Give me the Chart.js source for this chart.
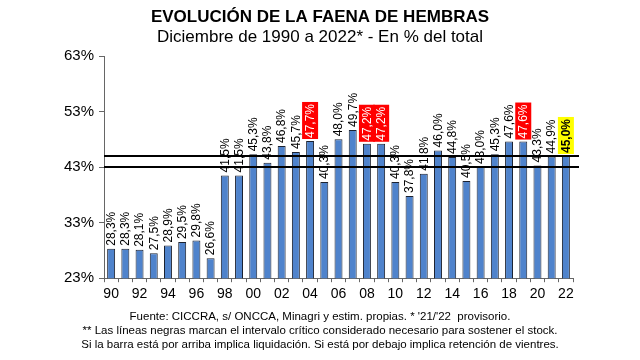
<!DOCTYPE html>
<html>
<head>
<meta charset="utf-8">
<script src="https://cdn.jsdelivr.net/npm/chart.js@4/dist/chart.umd.min.js"></script>
<style>
  html, body { margin: 0; padding: 0; background: #fff; }
  #wrap { width: 640px; height: 360px; }
</style>
</head>
<body>
<div id="wrap"><canvas id="chart" width="640" height="360"></canvas></div>
<script>
// años (dos dígitos) y % de hembras en la faena
const years = ['90','91','92','93','94','95','96','97','98','99','00','01','02','03','04','05',
               '06','07','08','09','10','11','12','13','14','15','16','17','18','19','20','21','22'];
const faena = [28.3, 28.3, 28.1, 27.5, 28.9, 29.5, 29.8, 26.6, 41.5, 41.5, 45.3, 43.8, 46.8, 45.7, 47.7, 40.3,
               48.0, 49.7, 47.2, 47.2, 40.3, 37.8, 41.8, 46.0, 44.8, 40.5, 43.0, 45.3, 47.6, 47.6, 43.3, 44.9, 45.0];
const redYears = ['04', '08', '09', '19'];
const yellowYears = ['22'];
// intervalo crítico (líneas negras)
const critical = [43, 45];
const yTicks = [23, 33, 43, 53, 63];

const FONT = "'Liberation Sans', Arial, sans-serif";

const titles = {
    title: 'EVOLUCIÓN DE LA FAENA DE HEMBRAS',
    subtitle: 'Diciembre de 1990 a 2022* - En % del total',
    footer: [
        "Fuente: CICCRA, s/ ONCCA, Minagri y estim. propias. * '21/'22  provisorio.",
        '** Las líneas negras marcan el intervalo crítico considerado necesario para sostener el stock.',
        'Si la barra está por arriba implica liquidación. Si está por debajo implica retención de vientres.'
    ]
};

function fmt(v) {
    return v.toFixed(1).replace('.', ',') + '%';
}

const textPlugin = {
    id: 'texts',
    afterDraw(chart) {
        const ctx = chart.ctx;
        ctx.save();
        ctx.fillStyle = '#000';
        ctx.textAlign = 'center';
        ctx.textBaseline = 'middle';
        ctx.font = 'bold 17px ' + FONT;
        ctx.fillText(titles.title, 320, 17);
        ctx.font = '17px ' + FONT;
        ctx.fillText(titles.subtitle, 320, 37);
        ctx.font = '11.5px ' + FONT;
        ctx.fillText(titles.footer[0], 320, 317);
        ctx.fillText(titles.footer[1], 320, 331);
        ctx.fillText(titles.footer[2], 320, 345);
        ctx.restore();
    }
};

const labelPlugin = {
    id: 'barLabels',
    afterDatasetsDraw(chart) {
        const ctx = chart.ctx;
        const meta = chart.getDatasetMeta(0);
        const yScale = chart.scales.y;
        ctx.save();
        meta.data.forEach((bar, i) => {
            const txt = fmt(faena[i]);
            const isRed = redYears.includes(years[i]);
            const isYellow = yellowYears.includes(years[i]);
            ctx.save();
            ctx.translate(bar.x, bar.y - 3);
            ctx.rotate(-Math.PI / 2);
            ctx.font = (isYellow ? 'bold ' : '') + '12px ' + FONT;
            ctx.textAlign = 'left';
            ctx.textBaseline = 'middle';
            const w = ctx.measureText(txt).width;
            if (isRed || isYellow) {
                ctx.fillStyle = isRed ? '#ff0000' : '#ffff00';
                ctx.fillRect(-1, -8, w + 3, 16);
            }
            ctx.fillStyle = isRed ? '#fff' : '#000';
            ctx.fillText(txt, 0, 0.5);
            ctx.restore();
        });

        // líneas del intervalo crítico
        const area = chart.chartArea;
        ctx.strokeStyle = '#000';
        ctx.lineWidth = 2;
        critical.forEach(v => {
            const y = Math.round(yScale.getPixelForValue(v));
            ctx.beginPath();
            ctx.moveTo(area.left, y);
            ctx.lineTo(area.right + 6, y);
            ctx.stroke();
        });
        ctx.restore();
    }
};

const ctx = document.getElementById('chart').getContext('2d');
const chart = new Chart(ctx, {
    type: 'bar',
    data: {
        labels: years,
        datasets: [{
            data: faena,
            backgroundColor: '#4f83cc',
            borderColor: '#1c2230',
            borderWidth: 1,
            borderSkipped: 'bottom',
            barPercentage: 0.56,
            categoryPercentage: 1.0
        }]
    },
    options: {
        responsive: false,
        animation: false,
        layout: { padding: { top: 56, left: 59, right: 67, bottom: 53 } },
        plugins: {
            legend: { display: false },
            tooltip: { enabled: false },
            title: { display: false }
        },
        scales: {
            x: {
                grid: { display: true, drawOnChartArea: false, drawTicks: true, tickLength: 4, color: '#666', offset: true },
                border: { display: true, color: '#666', width: 1 },
                ticks: {
                    autoSkip: false,
                    maxRotation: 0,
                    padding: 4,
                    color: '#000',
                    font: { family: FONT, size: 14 },
                    callback: (val, i) => (i % 2 === 0 ? years[i] : '')
                }
            },
            y: {
                min: yTicks[0],
                max: yTicks[yTicks.length - 1],
                afterBuildTicks: axis => { axis.ticks = yTicks.map(v => ({ value: v })); },
                grid: { display: true, drawOnChartArea: false, drawTicks: true, tickLength: 5, color: '#666' },
                border: { display: true, color: '#666', width: 1 },
                ticks: {
                    padding: 5,
                    color: '#000',
                    font: { family: FONT, size: 15 },
                    callback: v => v + '%'
                }
            }
        }
    },
    plugins: [labelPlugin, textPlugin]
});
</script>
</body>
</html>
